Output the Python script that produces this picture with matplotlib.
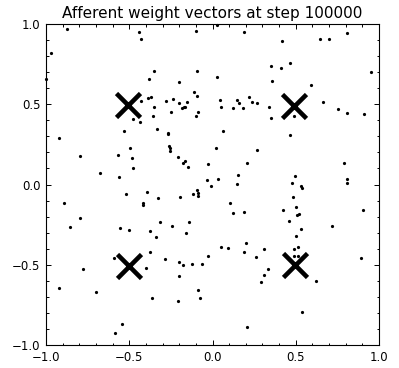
import numpy as np
import matplotlib
matplotlib.use("Agg")
import matplotlib.pyplot as plt
from matplotlib.ticker import MultipleLocator

TITLE = "Afferent weight vectors at step 100000"

# converged clusters (drawn as X shapes)
cluster_x = [-0.51, 0.49, -0.50, 0.497]
cluster_y = [0.495, 0.491, -0.505, -0.502]

# scattered weight vectors
pts_x = [
    -0.876, -0.969, -1.0, -0.44, -0.43, -0.10, 0.03, 0.19, 0.42, 0.466, 0.647, 0.70, 0.81, 0.95,
    -0.353, -0.384, -0.092, -0.204, 0.03, 0.35, 0.41, 0.36, 0.59,
    -0.43, -0.39, -0.37, -0.35, -0.36, -0.48, -0.435, -0.53, -0.333, -0.267, -0.265, -0.28, -0.238,
    -0.25, -0.204, -0.184, -0.164, -0.154, -0.174, -0.114, -0.094, -0.09, -0.10, 0.046, 0.05, 0.066,
    0.122, 0.146, 0.162, 0.186, 0.22, 0.24, 0.268, 0.34, 0.35, 0.666, 0.756, 0.81, 0.91, 0.49, 0.466,
    -0.92, -0.796, -0.566, -0.496, -0.486, -0.476, -0.26, -0.258, -0.256, -0.21, -0.166, -0.18, -0.15,
    0.024, 0.27, -0.026, 0.21, -0.674, -0.56, 0.156, -0.036, 0.032, -0.01, 0.15, 0.497, 0.475, 0.53,
    0.54, 0.79, 0.81, 0.81, -0.89, -0.796, -0.855, -0.52, -0.396, -0.42, -0.416, -0.326, -0.196,
    -0.116, -0.092, -0.088, -0.09, 0.104, 0.126, 0.19, 0.426, 0.485, 0.503, 0.507, 0.52, 0.458, 0.53,
    0.50, 0.72, 0.906, -0.556, -0.50, -0.374, -0.342, -0.316, -0.246, -0.142, -0.158,
    -0.374, -0.288, -0.028, 0.052, 0.094, 0.19, 0.202, 0.26, 0.31, 0.49, 0.512, 0.49, 0.514, 0.892,
    -0.59, -0.777, -0.92, -0.70, -0.40, -0.20, -0.18, -0.124, -0.064, -0.204, -0.364, -0.21, -0.09,
    -0.076, -0.544, -0.588, 0.336, 0.31, 0.29, 0.62, 0.54, 0.21,
]
pts_y = [
    0.967, 0.817, 0.657, 0.948, 0.907, 0.958, 0.994, 0.948, 0.896, 0.755, 0.905, 0.909, 0.942, 0.699,
    0.707, 0.657, 0.709, 0.639, 0.668, 0.740, 0.726, 0.645, 0.620,
    0.52, 0.537, 0.547, 0.481, 0.427, 0.406, 0.391, 0.333, 0.344, 0.323, 0.313, 0.52, 0.531,
    0.454, 0.506, 0.475, 0.485, 0.516, 0.48, 0.578, 0.551, 0.454, 0.429, 0.527, 0.485, 0.335,
    0.479, 0.527, 0.506, 0.475, 0.547, 0.512, 0.506, 0.481, 0.412, 0.512, 0.470, 0.444, 0.439, 0.429, 0.309,
    0.288, 0.178, 0.184, 0.227, 0.165, 0.103, 0.24, 0.225, 0.21, 0.169, 0.148, 0.132, 0.111,
    0.225, 0.215, 0.128, 0.136, 0.07, 0.049, 0.059, 0.026, 0.034, -0.009, 0.001, 0.053, 0.011, -0.009,
    -0.02, 0.132, 0.032, 0.007, -0.113, -0.207, -0.263, -0.059, -0.045, -0.113, -0.13, -0.082, -0.076,
    -0.061, -0.034, -0.055, -0.07, -0.117, -0.176, -0.169, -0.159, -0.076, -0.142, -0.19, -0.184, -0.225, -0.277,
    -0.321, -0.259, -0.159, -0.273, -0.283, -0.288, -0.327, -0.232, -0.259, -0.234, -0.304,
    -0.419, -0.466, -0.445, -0.388, -0.394, -0.423, -0.367, -0.45, -0.40, -0.404, -0.391, -0.445, -0.445, -0.456,
    -0.46, -0.528, -0.647, -0.672, -0.522, -0.485, -0.50, -0.496, -0.496, -0.57, -0.709, -0.726, -0.66,
    -0.705, -0.869, -0.923, -0.528, -0.564, -0.605, -0.601, -0.793, -0.89,
]

plt.rcParams["font.family"] = ["DejaVu Sans"]

fig = plt.figure(figsize=(3.99, 3.68), dpi=100)
ax = fig.add_axes([46 / 399, 1 - 345 / 368, 333 / 399, 321 / 368])

ax.plot(pts_x, pts_y, "o", color="black", markersize=2.3, markeredgewidth=0, clip_on=False)
ax.plot(cluster_x, cluster_y, "x", color="black", markersize=17.5, markeredgewidth=3.3)

ax.set_xlim(-1, 1)
ax.set_ylim(-1, 1)
ax.xaxis.set_major_locator(MultipleLocator(0.5))
ax.yaxis.set_major_locator(MultipleLocator(0.5))
ax.xaxis.set_minor_locator(MultipleLocator(0.1))
ax.yaxis.set_minor_locator(MultipleLocator(0.1))
ax.tick_params(which="both", direction="in", top=True, right=True, width=0.7, labelsize=8.5)
ax.tick_params(which="major", length=3.5)
ax.tick_params(which="minor", length=1.8)
ax.tick_params(axis="x", pad=4.5)
ax.tick_params(axis="y", pad=4)
ax.xaxis.set_major_formatter(lambda v, p: f"{v:.1f}".replace("-", "\u2212"))
ax.yaxis.set_major_formatter(lambda v, p: f"{v:.1f}".replace("-", "\u2212"))
for s in ax.spines.values():
    s.set_linewidth(0.8)

ax.set_title(TITLE, fontsize=11, pad=4.5)

fig.savefig("out.png", dpi=100)
